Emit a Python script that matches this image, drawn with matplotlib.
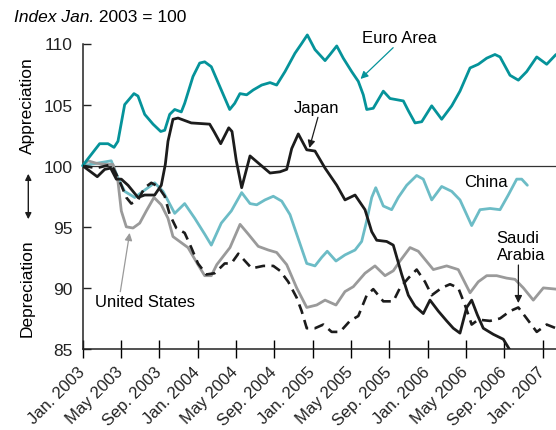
import matplotlib
matplotlib.use("Agg")
import matplotlib.pyplot as plt

plt.rcParams['font.family'] = ['Liberation Sans', 'DejaVu Sans']
plt.rcParams['font.size'] = 12

# months since Jan. 2003, index values (Jan. 2003 = 100)
euro_t = [0, 1.78, 2.65, 3.28, 3.69, 4.39, 5.36, 5.78, 6.48, 7.35, 8.15, 8.57, 9.09, 9.61,
          10.30, 10.65, 11.52, 12.22, 12.74, 13.43, 14.47, 15.35, 15.87, 16.42, 17.12, 17.81,
          18.69, 19.56, 20.25, 21.12, 22.16, 22.86, 23.45, 24.25, 25.30, 25.82, 26.52, 27.20,
          28.08, 28.77, 29.29, 29.65, 30.33, 31.38, 32.08, 32.78, 33.47, 33.99, 34.69, 35.39,
          36.43, 37.47, 38.52, 39.38, 40.43, 41.29, 42.17, 43.03, 43.56, 44.60, 45.47, 46.34,
          47.39, 48.43, 49.40]
euro_v = [100.0, 101.8, 101.8, 101.5, 102.0, 105.0, 105.9, 105.7, 104.2, 103.4, 102.8, 102.9,
          104.2, 104.6, 104.4, 105.1, 107.3, 108.4, 108.5, 108.1, 106.2, 104.6, 105.1, 105.9,
          105.8, 106.2, 106.6, 106.8, 106.6, 107.7, 109.2, 110.0, 110.7, 109.5, 108.6, 109.1,
          109.8, 108.8, 107.7, 106.9, 105.8, 104.6, 104.7, 106.1, 105.5, 105.4, 105.3, 104.5,
          103.5, 103.6, 104.9, 103.8, 104.9, 106.1, 108.0, 108.3, 108.8, 109.1, 108.9, 107.4,
          107.0, 107.7, 108.9, 108.3, 109.1]

japan_t = [0, 1.53, 2.31, 2.93, 3.52, 4.04, 4.74, 5.78, 6.48, 7.52, 8.21, 8.63, 8.91, 9.43,
           9.96, 11.34, 13.26, 13.71, 14.41, 15.25, 15.59, 16.04, 16.60, 17.47, 18.51, 19.56,
           20.60, 21.30, 21.82, 22.51, 23.39, 24.25, 25.30, 26.52, 27.38, 28.43, 29.47, 30.17,
           30.69, 31.73, 32.42, 33.30, 33.99, 34.69, 35.55, 36.25, 37.12, 37.99, 38.68, 39.38,
           40.08, 40.60, 41.19, 41.81, 42.86, 43.90, 44.60]
japan_v = [100.0, 99.1, 99.7, 99.8, 98.9, 98.9, 98.4, 97.4, 97.6, 97.6, 98.4, 100.1, 102.0,
           103.8, 103.9, 103.5, 103.4, 102.8, 101.8, 103.1, 102.8, 100.4, 98.2, 100.8, 100.1,
           99.4, 99.5, 99.7, 101.4, 102.6, 101.3, 101.2, 99.8, 98.4, 97.2, 97.6, 96.4, 94.6,
           93.9, 93.8, 93.5, 91.1, 89.4, 88.5, 87.9, 89.0, 88.1, 87.3, 86.7, 86.3, 88.4, 89.0,
           87.8, 86.7, 86.2, 85.8, 84.9]

china_t = [0, 1.5, 2.99, 3.69, 4.39, 5.44, 6.30, 7.52, 8.39, 9.61, 10.65, 11.70, 12.74, 13.43,
           14.47, 15.52, 16.60, 17.47, 18.17, 19.03, 19.90, 20.78, 21.64, 22.34, 23.39, 24.25,
           24.95, 25.53, 26.44, 27.38, 28.43, 29.12, 29.65, 30.17, 30.59, 31.38, 32.25, 32.94,
           33.82, 34.86, 35.55, 36.43, 37.47, 38.52, 39.38, 40.08, 40.60, 41.47, 42.52, 43.56,
           44.42, 45.30, 45.82, 46.41]
china_v = [100.0, 100.2, 100.4, 99.0, 97.9, 97.4, 97.9, 98.6, 97.9, 96.1, 96.9, 95.7, 94.4,
           93.5, 95.3, 96.3, 97.8, 96.9, 96.8, 97.2, 97.5, 97.1, 96.0, 94.4, 92.0, 91.8, 92.5,
           93.0, 92.2, 92.7, 93.1, 93.8, 95.5, 97.4, 98.2, 96.7, 96.4, 97.4, 98.4, 99.2, 98.9,
           97.2, 98.3, 97.9, 97.2, 96.0, 95.1, 96.4, 96.5, 96.4, 97.6, 98.9, 98.9, 98.4]

us_t = [0, 0.56, 1.43, 2.47, 3.17, 3.69, 4.04, 4.56, 5.26, 5.96, 6.65, 7.45, 8.21, 8.91, 9.43,
        10.30, 11.00, 12.04, 12.74, 13.43, 14.0, 15.38, 16.43, 17.29, 18.33, 19.38, 20.25,
        21.30, 22.34, 23.39, 24.43, 25.30, 26.44, 27.38, 28.25, 29.47, 30.51, 31.56, 32.42,
        33.12, 34.17, 35.03, 36.60, 37.99, 39.20, 40.43, 41.29, 42.17, 43.21, 44.25, 45.12,
        45.99, 47.03, 48.08, 49.40]
us_v = [100.0, 100.4, 100.2, 100.1, 100.1, 98.7, 96.3, 95.0, 94.9, 95.3, 96.3, 97.4, 96.8, 95.7,
        94.2, 93.7, 93.3, 91.9, 91.0, 91.0, 91.9, 93.3, 95.2, 94.4, 93.4, 93.1, 92.9, 91.9,
        90.0, 88.4, 88.6, 89.0, 88.6, 89.7, 90.1, 91.2, 91.8, 91.0, 91.4, 92.2, 93.3, 93.0,
        91.5, 91.8, 91.5, 89.6, 90.5, 91.0, 91.0, 90.8, 90.7, 90.0, 89.0, 90.0, 89.9]

saudi_t = [0, 1.43, 2.47, 2.99, 3.52, 4.04, 4.56, 5.08, 5.78, 6.48, 7.17, 7.87, 8.57, 9.09,
           9.78, 10.65, 11.34, 12.04, 12.91, 13.78, 14.83, 15.52, 16.25, 16.95, 17.65, 18.86,
           19.90, 20.60, 21.46, 22.34, 22.86, 23.39, 24.25, 25.12, 25.99, 26.86, 27.90, 28.77,
           29.65, 30.33, 31.38, 32.42, 33.12, 33.99, 34.86, 35.73, 36.43, 37.47, 38.34, 39.20,
           39.90, 40.60, 41.29, 42.52, 43.56, 44.60, 45.47, 46.34, 47.39, 48.43, 49.40]
saudi_v = [100.0, 99.8, 100.0, 100.1, 99.3, 98.4, 97.4, 96.9, 97.2, 98.2, 98.6, 98.3, 97.5,
           96.0, 94.9, 94.5, 93.3, 92.0, 91.1, 91.2, 92.0, 92.0, 92.8, 92.2, 91.6, 91.8, 91.8,
           91.4, 90.5, 89.2, 88.1, 86.7, 86.7, 87.0, 86.4, 86.4, 87.3, 87.7, 89.4, 89.9, 88.9,
           88.9, 90.0, 90.8, 91.5, 90.5, 89.4, 90.0, 90.3, 90.0, 88.6, 87.0, 87.4, 87.3, 87.5,
           88.1, 88.4, 87.5, 86.4, 87.0, 86.7]

tick_months = [0, 4, 8, 12, 16, 20, 24, 28, 32, 36, 40, 44, 48]
tick_labels = ['Jan. 2003', 'May 2003', 'Sep. 2003', 'Jan. 2004', 'May 2004', 'Sep. 2004',
               'Jan. 2005', 'May 2005', 'Sep. 2005', 'Jan. 2006', 'May 2006', 'Sep. 2006',
               'Jan. 2007']
y_ticks = [85, 90, 95, 100, 105, 110]

EURO = '#05939a'
CHINA = '#6cbcc6'
GRAY = '#9a9a9a'
INK = '#1c1c1c'

fig = plt.figure(figsize=(5.56, 4.31), dpi=100)
ax = fig.add_axes([82.6 / 556, 81 / 431, 1 - 82.6 / 556, 305.5 / 431])

line_kw = dict(solid_joinstyle='round', solid_capstyle='round')
ax.axhline(100, color='#333333', lw=0.9, zorder=1)
ax.plot(china_t, china_v, color=CHINA, lw=2.0, zorder=2, **line_kw)
ax.plot(us_t, us_v, color=GRAY, lw=2.0, zorder=3, **line_kw)
ax.plot(saudi_t, saudi_v, color=INK, lw=1.9, ls=(0, (3.8, 2.4)), zorder=4,
        dash_joinstyle='round')
ax.plot(euro_t, euro_v, color=EURO, lw=2.0, zorder=5, clip_on=False, **line_kw)
ax.plot(japan_t, japan_v, color=INK, lw=2.0, zorder=6, **line_kw)

ax.set_xlim(0, 49.4)
ax.set_ylim(85, 110)
ax.set_yticks(y_ticks)
ax.set_xticks(tick_months)
ax.set_xticklabels(tick_labels, rotation=45, ha='right', va='center',
                   rotation_mode='anchor', fontsize=12, color='#222222')
ax.tick_params(axis='y', direction='in', length=6, width=1.0, pad=7,
               labelsize=12.5, colors='#222222')
ax.tick_params(axis='x', direction='inout', length=13, width=1.0, pad=8)
for side in ['top', 'right']:
    ax.spines[side].set_visible(False)
for side in ['left', 'bottom']:
    ax.spines[side].set_linewidth(1.1)
    ax.spines[side].set_color('#222222')

# labels on the lines
arrow = dict(arrowstyle='-|>', lw=0.9, mutation_scale=11, shrinkA=0, shrinkB=0)
ax.annotate('Euro Area', xy=(29.0, 107.1), xytext=(33.1, 110.5), ha='center', va='center',
            annotation_clip=False, fontsize=12,
            arrowprops=dict(arrow, color=EURO, relpos=(0.45, 0.0)))
ax.annotate('Japan', xy=(23.66, 101.45), xytext=(24.4, 104.8), ha='center', va='center',
            fontsize=12, arrowprops=dict(arrow, color=INK, relpos=(0.55, 0.0)))
ax.text(42.1, 98.7, 'China', ha='center', va='center', fontsize=12)
ax.annotate('Saudi\nArabia', xy=(45.47, 88.76), xytext=(43.2, 93.4), ha='left', va='center',
            fontsize=12, linespacing=1.15,
            arrowprops=dict(arrow, color=INK, relpos=(0.45, 0.0)))
ax.annotate('United States', xy=(4.91, 94.5), xytext=(6.5, 88.85), ha='center', va='center',
            fontsize=12, arrowprops=dict(arrow, color=GRAY, relpos=(0.25, 1.0)))

# side captions
fig.text(27 / 556, 1 - 106 / 431, 'Appreciation', rotation=90, ha='center', va='center',
         fontsize=12.5)
fig.text(27 / 556, 1 - 288 / 431, 'Depreciation', rotation=90, ha='center', va='center',
         fontsize=12.5)
fig.add_artist(matplotlib.patches.FancyArrowPatch(
    (28.3 / 556, 1 - 172 / 431), (28.3 / 556, 1 - 223 / 431), transform=fig.transFigure,
    arrowstyle='<|-|>', mutation_scale=9, lw=1.0, color=INK))

t1 = fig.text(14 / 556, 1 - 17 / 431, 'Index Jan.', style='italic', ha='left', va='center',
              fontsize=12.5)
ax.annotate(' 2003 = 100', xy=(1, 0.5), xycoords=t1, ha='left', va='center', fontsize=12.5)

fig.savefig('out.png', dpi=100)
